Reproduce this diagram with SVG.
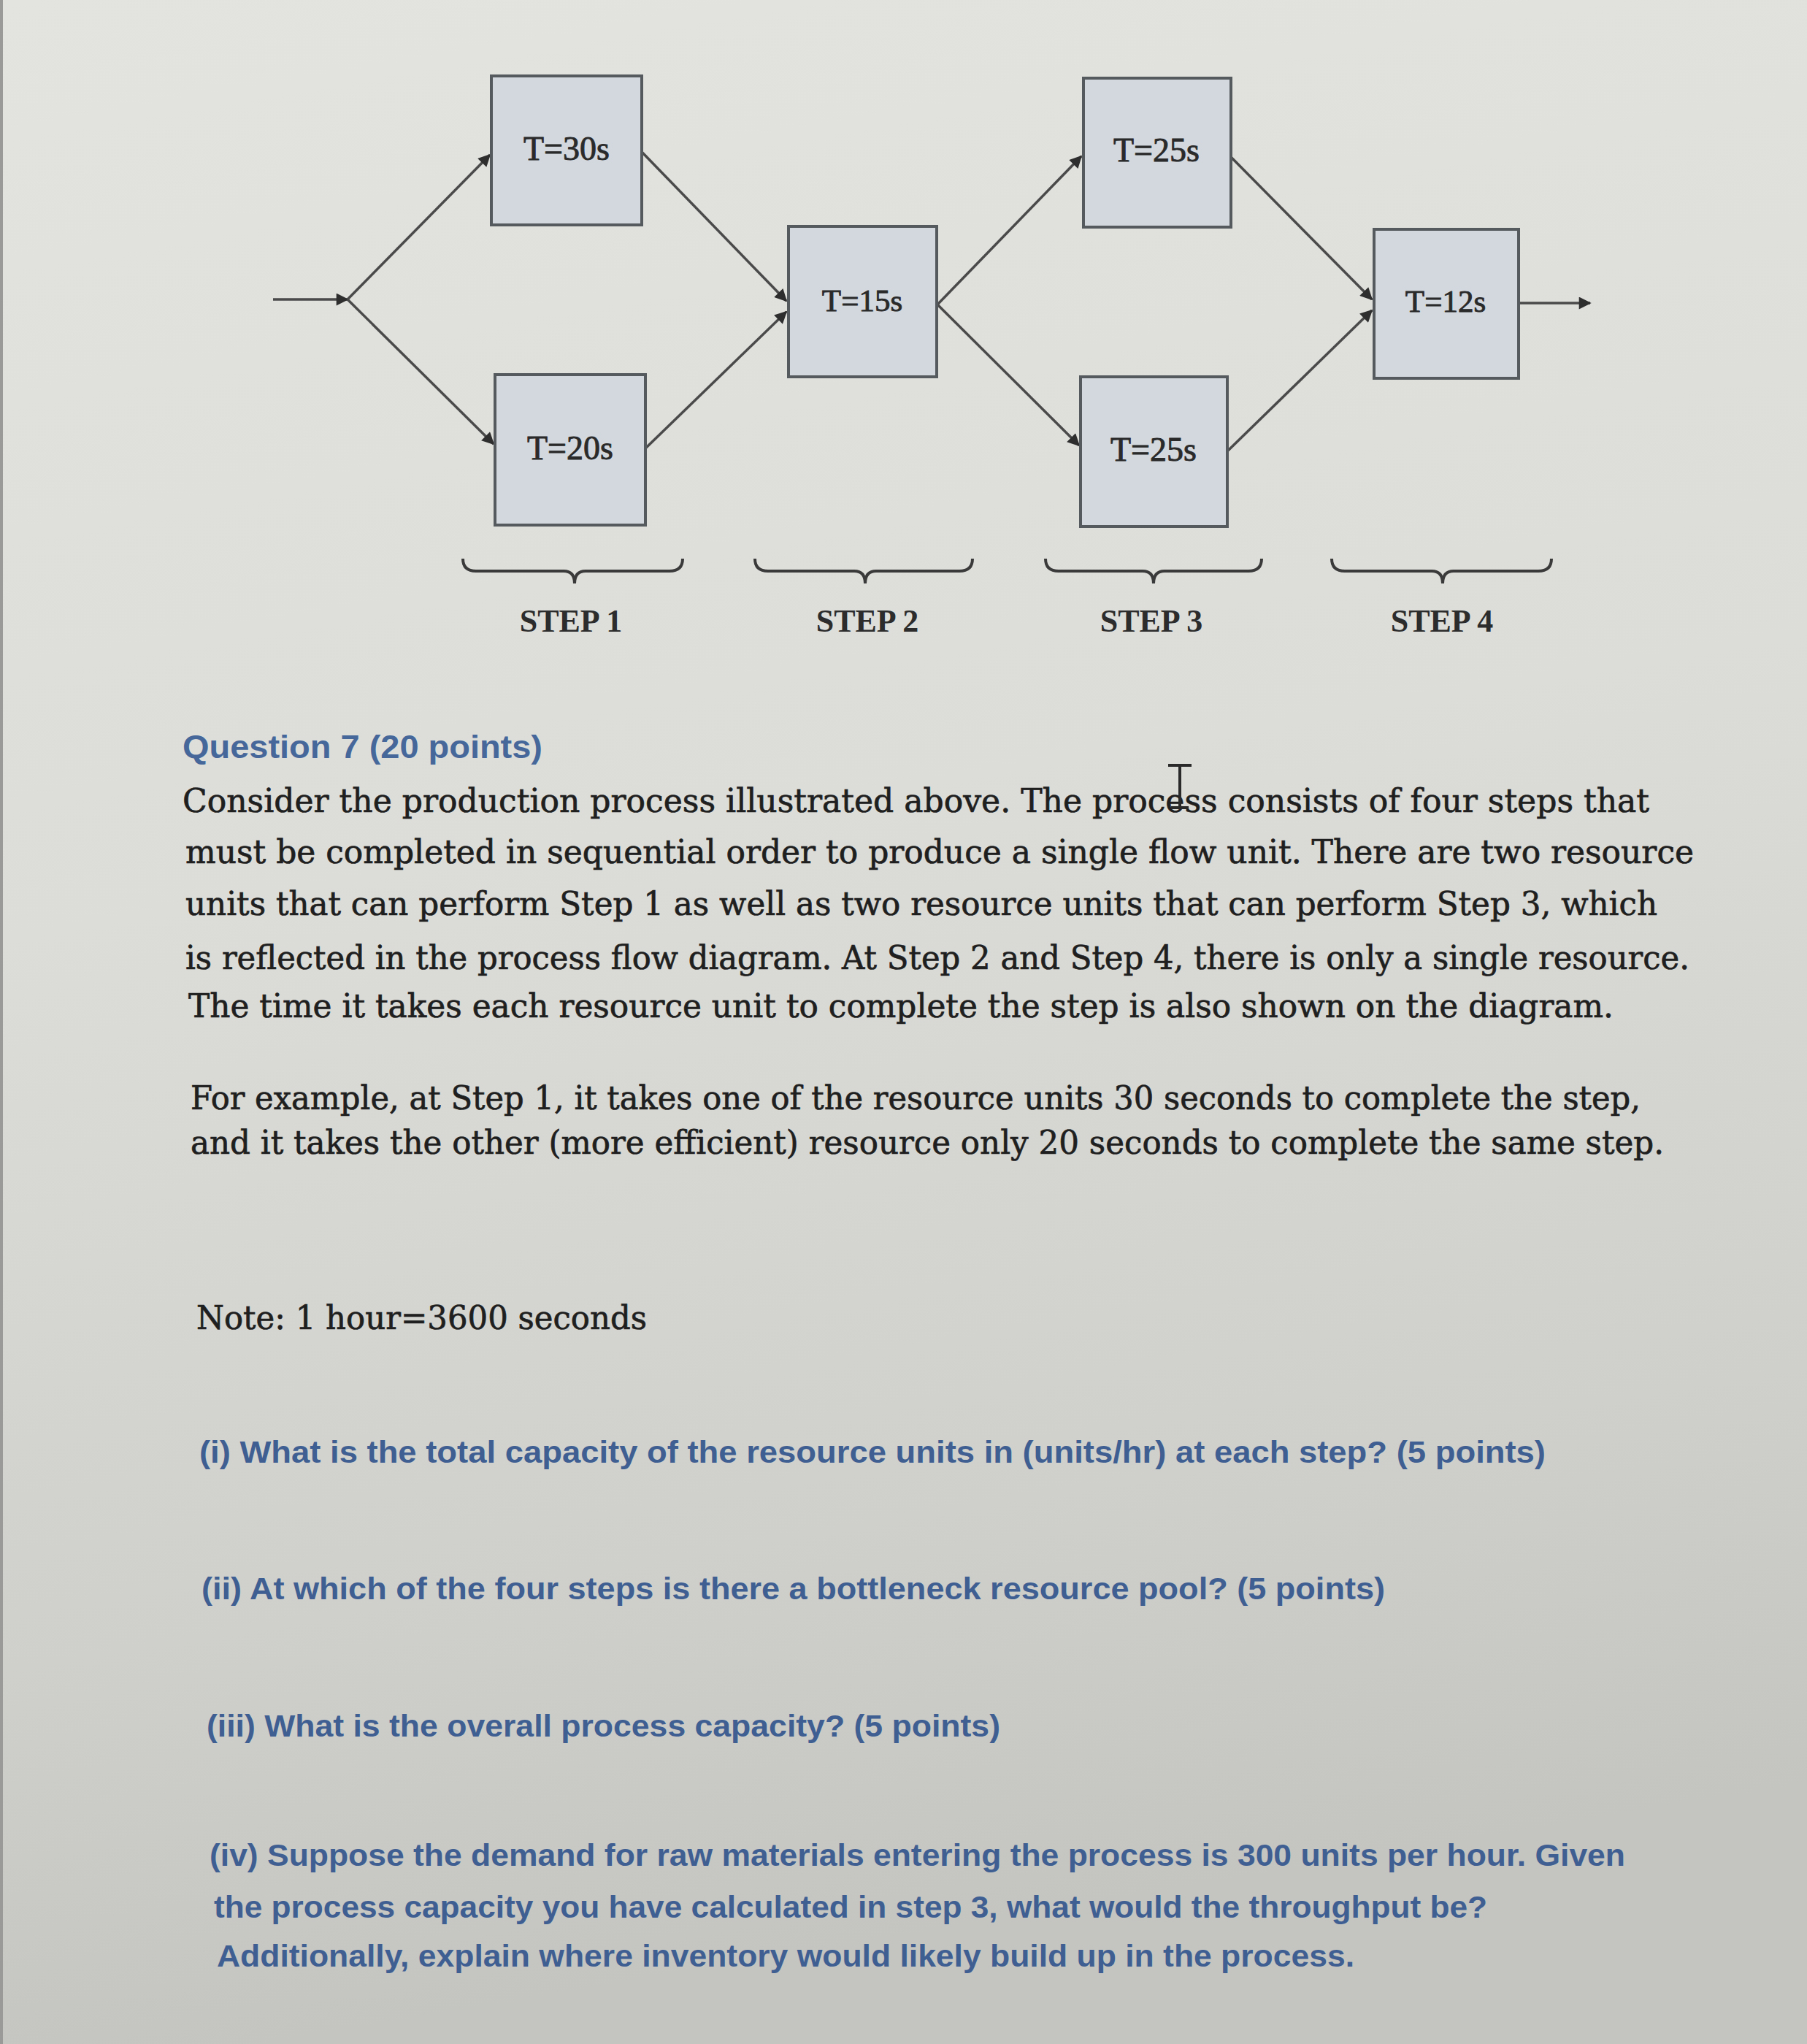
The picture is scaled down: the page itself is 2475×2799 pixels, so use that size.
<svg xmlns="http://www.w3.org/2000/svg" width="2475" height="2799" viewBox="0 0 2475 2799">
<defs>
<linearGradient id="bg" x1="0" y1="0" x2="0.15" y2="1">
<stop offset="0" stop-color="#e3e4e0"/>
<stop offset="0.45" stop-color="#dcddd9"/>
<stop offset="0.8" stop-color="#cfd0cc"/>
<stop offset="1" stop-color="#c4c4c1"/>
</linearGradient>
<marker id="ah" viewBox="0 0 10 10" refX="9" refY="5" markerWidth="20" markerHeight="17" markerUnits="userSpaceOnUse" orient="auto">
<path d="M0,0 L10,5 L0,10 Z" fill="#2e2e2e"/>
</marker>
<style>
.box{fill:#d3d8de;stroke:#555a5e;stroke-width:4}
.bt{font-family:"Liberation Serif","Times New Roman",serif;font-size:46px;fill:#2a2a2a;stroke:#2a2a2a;stroke-width:0.9;text-anchor:middle}
.con{stroke:#4a4a4a;stroke-width:3.5;fill:none;marker-end:url(#ah)}
.brace{stroke:#3a3a3a;stroke-width:4;fill:none}
.st{font-family:"Liberation Serif","Times New Roman",serif;font-size:44px;font-weight:bold;fill:#2c2c2c;text-anchor:middle}
.body{font-family:"DejaVu Serif","Liberation Serif",serif;font-size:44px;fill:#1f1f1f;stroke:#1f1f1f;stroke-width:0.7}
.q{font-family:"Liberation Sans",Arial,sans-serif;font-size:40px;font-weight:bold;fill:#3f5f92}
</style>
</defs>
<rect x="0" y="0" width="2475" height="2799" fill="url(#bg)"/>
<rect x="0" y="0" width="4" height="2799" fill="#9a9a98"/>

<g id="connectors">
<line class="con" x1="374" y1="410" x2="476" y2="410"/>
<line class="con" x1="476" y1="410" x2="671" y2="212"/>
<line class="con" x1="476" y1="410" x2="676" y2="608"/>
<line class="con" x1="879" y1="208" x2="1077" y2="412"/>
<line class="con" x1="884" y1="614" x2="1077" y2="427"/>
<line class="con" x1="1284" y1="417" x2="1481" y2="214"/>
<line class="con" x1="1284" y1="417" x2="1478" y2="610"/>
<line class="con" x1="1686" y1="215" x2="1879" y2="410"/>
<line class="con" x1="1682" y1="617" x2="1879" y2="425"/>
<line class="con" x1="2082" y1="415" x2="2178" y2="415"/>
</g>

<g id="node-t30">
<rect class="box" x="673" y="104" width="206" height="204"/>
<text class="bt" x="776" y="219">T=30s</text>
</g>
<g id="node-t20">
<rect class="box" x="678" y="513" width="206" height="206"/>
<text class="bt" x="781" y="629">T=20s</text>
</g>
<g id="node-t15">
<rect class="box" x="1080" y="310" width="203" height="206"/>
<text class="bt" x="1181" y="426" style="font-size:43px">T=15s</text>
</g>
<g id="node-t25a">
<rect class="box" x="1484" y="107" width="202" height="204"/>
<text class="bt" x="1584" y="221">T=25s</text>
</g>
<g id="node-t25b">
<rect class="box" x="1480" y="516" width="201" height="205"/>
<text class="bt" x="1580" y="631">T=25s</text>
</g>
<g id="node-t12">
<rect class="box" x="1882" y="314" width="198" height="204"/>
<text class="bt" x="1980" y="427" style="font-size:43px">T=12s</text>
</g>

<g id="braces">
<path class="brace" d="M634,765 Q634,782 652,782 L772,782 Q787,782 787,799 Q787,782 802,782 L917,782 Q935,782 935,765"/>
<path class="brace" d="M1034,765 Q1034,782 1052,782 L1170,782 Q1185,782 1185,799 Q1185,782 1200,782 L1314,782 Q1332,782 1332,765"/>
<path class="brace" d="M1432,765 Q1432,782 1450,782 L1565,782 Q1580,782 1580,799 Q1580,782 1595,782 L1710,782 Q1728,782 1728,765"/>
<path class="brace" d="M1824,765 Q1824,782 1842,782 L1961,782 Q1976,782 1976,799 Q1976,782 1991,782 L2107,782 Q2125,782 2125,765"/>
</g>
<g id="step-labels">
<text class="st" x="782" y="865">STEP 1</text>
<text class="st" x="1188" y="865">STEP 2</text>
<text class="st" x="1577" y="865">STEP 3</text>
<text class="st" x="1975" y="865">STEP 4</text>
</g>

<g id="question-text">
<text class="q" x="250" y="1038" textLength="493" lengthAdjust="spacingAndGlyphs" style="font-size:44px;fill:#46679a">Question 7 (20 points)</text>
<text class="body" x="250" y="1112" textLength="2009" lengthAdjust="spacingAndGlyphs">Consider the production process illustrated above. The process consists of four steps that</text>
<text class="body" x="254" y="1182" textLength="2066" lengthAdjust="spacingAndGlyphs">must be completed in sequential order to produce a single flow unit. There are two resource</text>
<text class="body" x="254" y="1253" textLength="2016" lengthAdjust="spacingAndGlyphs">units that can perform Step 1 as well as two resource units that can perform Step 3, which</text>
<text class="body" x="254" y="1327" textLength="2060" lengthAdjust="spacingAndGlyphs">is reflected in the process flow diagram. At Step 2 and Step 4, there is only a single resource.</text>
<text class="body" x="258" y="1393" textLength="1952" lengthAdjust="spacingAndGlyphs">The time it takes each resource unit to complete the step is also shown on the diagram.</text>
<text class="body" x="261" y="1519" textLength="1986" lengthAdjust="spacingAndGlyphs">For example, at Step 1, it takes one of the resource units 30 seconds to complete the step,</text>
<text class="body" x="261" y="1580" textLength="2018" lengthAdjust="spacingAndGlyphs">and it takes the other (more efficient) resource only 20 seconds to complete the same step.</text>
<text class="body" x="269" y="1820" textLength="617" lengthAdjust="spacingAndGlyphs">Note: 1 hour=3600 seconds</text>
<text class="q" x="273" y="2003" textLength="1844" lengthAdjust="spacingAndGlyphs" style="font-size:42px">(i) What is the total capacity of the resource units in (units/hr) at each step? (5 points)</text>
<text class="q" x="276" y="2190" textLength="1621" lengthAdjust="spacingAndGlyphs" style="font-size:42px">(ii) At which of the four steps is there a bottleneck resource pool? (5 points)</text>
<text class="q" x="283" y="2378" textLength="1087" lengthAdjust="spacingAndGlyphs" style="font-size:42px">(iii) What is the overall process capacity? (5 points)</text>
<text class="q" x="287" y="2555" textLength="1939" lengthAdjust="spacingAndGlyphs" style="font-size:42px">(iv) Suppose the demand for raw materials entering the process is 300 units per hour. Given</text>
<text class="q" x="293" y="2626" textLength="1744" lengthAdjust="spacingAndGlyphs" style="font-size:42px">the process capacity you have calculated in step 3, what would the throughput be?</text>
<text class="q" x="297" y="2693" textLength="1558" lengthAdjust="spacingAndGlyphs" style="font-size:42px">Additionally, explain where inventory would likely build up in the process.</text>
</g>

<g id="cursor" stroke="#2a2a2a" stroke-width="4" fill="none">
<line x1="1616" y1="1048" x2="1616" y2="1106"/>
<line x1="1600" y1="1048" x2="1632" y2="1048"/>
<line x1="1604" y1="1106" x2="1628" y2="1106"/>
</g>
</svg>
